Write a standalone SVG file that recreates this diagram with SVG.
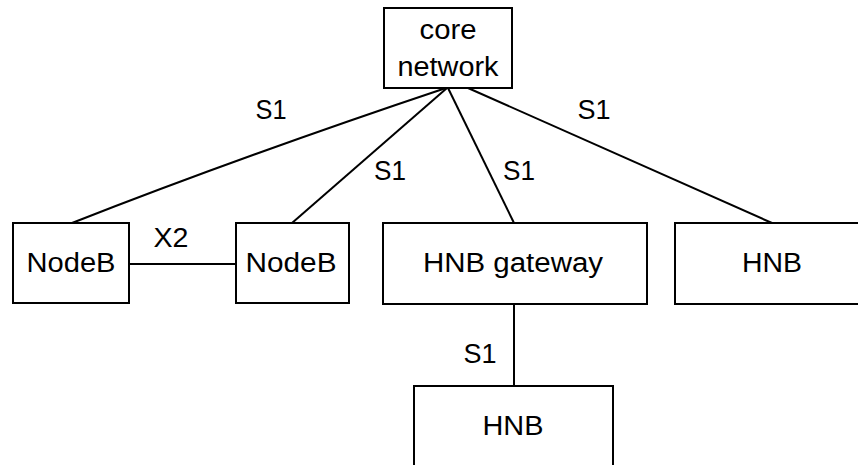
<svg xmlns="http://www.w3.org/2000/svg" width="858" height="465" viewBox="0 0 858 465">
<style>
.box{fill:#fff;stroke:#000;stroke-width:2}
.ln{fill:none;stroke:#000;stroke-width:2}
text{font-family:"Liberation Sans",Arial,sans-serif;font-size:27px;fill:#000;text-anchor:middle}
</style>
<rect width="858" height="465" fill="#fff"/>
<g id="connectors">
<path class="ln" d="M72,223 Q240,157 446,88"/>
<path class="ln" d="M292,223 L447,88"/>
<path class="ln" d="M514,223 L448,88"/>
<path class="ln" d="M772,223 L468,88"/>
<path class="ln" d="M129,264 L236,264"/>
<path class="ln" d="M514,304 L514,386"/>
<text x="271" y="119" textLength="31" lengthAdjust="spacingAndGlyphs">S1</text>
<text x="390" y="180" textLength="32" lengthAdjust="spacingAndGlyphs">S1</text>
<text x="519" y="180" textLength="32" lengthAdjust="spacingAndGlyphs">S1</text>
<text x="594" y="119" textLength="33" lengthAdjust="spacingAndGlyphs">S1</text>
<text x="171" y="247" textLength="35" lengthAdjust="spacingAndGlyphs">X2</text>
<text x="480" y="363" textLength="33" lengthAdjust="spacingAndGlyphs">S1</text>
</g>
<g id="core">
<rect class="box" x="384" y="8" width="128" height="80"/>
<text x="448" y="39" textLength="57" lengthAdjust="spacingAndGlyphs">core</text>
<text x="448" y="76" textLength="101" lengthAdjust="spacingAndGlyphs">network</text>
</g>
<g id="nodeb1">
<rect class="box" x="13" y="223" width="116" height="80"/>
<text x="71" y="272" textLength="89" lengthAdjust="spacingAndGlyphs">NodeB</text>
</g>
<g id="nodeb2">
<rect class="box" x="236" y="223" width="113" height="80"/>
<text x="291" y="272" textLength="91" lengthAdjust="spacingAndGlyphs">NodeB</text>
</g>
<g id="hnbgw">
<rect class="box" x="383" y="223" width="264" height="81"/>
<text x="513" y="272" textLength="180" lengthAdjust="spacingAndGlyphs">HNB gateway</text>
</g>
<g id="hnb1">
<rect class="box" x="675" y="223" width="200" height="81"/>
<text x="772" y="272" textLength="60" lengthAdjust="spacingAndGlyphs">HNB</text>
</g>
<g id="hnb2">
<rect class="box" x="414" y="386" width="199" height="100"/>
<text x="513" y="435" textLength="61" lengthAdjust="spacingAndGlyphs">HNB</text>
</g>
</svg>
